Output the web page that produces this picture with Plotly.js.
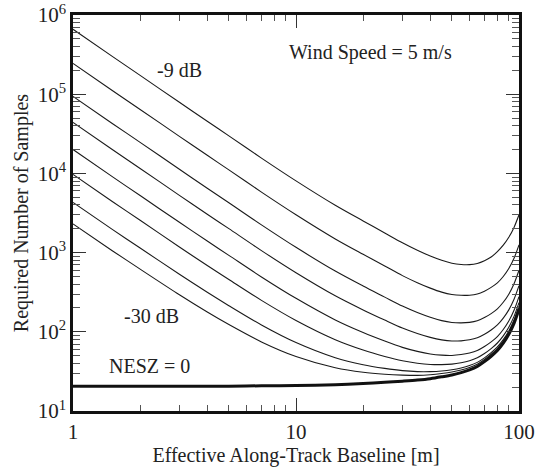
<!DOCTYPE html>
<html>
<head>
<meta charset="utf-8">
<script src="https://cdn.plot.ly/plotly-3.0.1.min.js"></script>
<style>html,body{margin:0;padding:0;background:#fff;}#chart{width:535px;height:472px;}</style>
</head>
<body>
<div id="chart"></div>
<script>
// Effective along-track baseline [m]
const baseline = [1, 1.5, 2, 3, 4, 5, 7, 10, 15, 20, 25, 30, 35, 40, 45, 50, 55, 60, 65, 70, 75, 80, 85, 90, 95, 100];

// Required number of samples, one array per NESZ level
const nesz_m9  = [660000, 300000, 173000, 79000, 45500, 29800, 15600, 8050, 3960, 2510, 1770, 1330, 1070, 905, 800, 735, 708, 705, 730, 790, 880, 1030, 1240, 1560, 2080, 3000];
const nesz_m12 = [245000, 111380, 64240, 29340, 16910, 11080, 5810, 3007, 1488, 951, 678, 512, 417, 356, 317, 296, 289, 290, 300, 326, 364, 415, 499, 629, 848, 1254];
const nesz_m15 = [94000, 42740, 24655, 11270, 6500, 4264, 2241, 1166, 584, 378, 274, 211, 175, 152.5, 138.3, 131.3, 129.7, 131.6, 137.8, 151.1, 169.7, 194.9, 235.9, 298.5, 404.4, 599.5];
const nesz_m18 = [44000, 20012, 11549, 5285, 3052, 2006, 1060, 557, 284.9, 188.9, 140.5, 111.4, 95, 85, 79.1, 76.5, 76.9, 79.2, 83.9, 93.1, 105.4, 122, 148.7, 189.1, 257.3, 382.6];
const nesz_m21 = [20000, 9101, 5257, 2412, 1398, 923, 492.7, 264.5, 141.1, 97.9, 76.4, 63.6, 56.6, 52.5, 50.7, 50.3, 51.6, 54, 58, 65.2, 74.6, 87.1, 106.8, 136.7, 186.8, 278.6];
const nesz_m24 = [9700, 4422, 2559, 1179, 688, 457.8, 249.5, 139, 79.5, 58.9, 48.9, 43.1, 40.1, 38.7, 38.5, 39.1, 40.7, 43.1, 47, 53.2, 61.4, 72.2, 88.9, 114.2, 156.5, 234];
const nesz_m27 = [4300, 1966, 1142, 532.8, 315.5, 213.8, 122, 73.2, 47.1, 38.4, 34.5, 32.3, 31.4, 31.4, 32, 33.2, 35, 37.5, 41.1, 46.9, 54.5, 64.3, 79.5, 102.3, 140.6, 210.5];
const nesz_m30 = [2300, 1057, 618.2, 293.4, 177.7, 123.5, 74.6, 48.8, 35.2, 30.8, 29.1, 28.4, 28.2, 28.7, 29.7, 31, 32.9, 35.4, 38.9, 44.6, 52, 61.3, 76, 98, 134.7, 201.9];
const nesz_0   = [20.5, 20.5, 20.5, 20.5, 20.5, 20.6, 20.8, 21, 21.5, 22.2, 23, 23.8, 24.6, 25.6, 27, 28.5, 30.5, 33, 36.5, 42, 49, 58, 72, 93, 128, 192];

const thinSeries = [nesz_m9, nesz_m12, nesz_m15, nesz_m18, nesz_m21, nesz_m24, nesz_m27, nesz_m30];
const thinNames = ['-9 dB', '-12 dB', '-15 dB', '-18 dB', '-21 dB', '-24 dB', '-27 dB', '-30 dB'];

// Tick labels
const xTickVals = [1, 10, 100];
const xTickText = ['1', '10', '100'];
const yTickVals = [10, 100, 1000, 10000, 100000, 1000000];
const yTickText = ['10<sup>1</sup>', '10<sup>2</sup>', '10<sup>3</sup>', '10<sup>4</sup>', '10<sup>5</sup>', '10<sup>6</sup>'];

function minorVals(decStart, decEnd) {
  const out = [];
  for (let d = decStart; d < decEnd; d++) for (let m = 2; m <= 9; m++) out.push(m * Math.pow(10, d));
  return out;
}

const FONT = 'Liberation Serif';
const TXT = '#222';

const traces = thinSeries.map((ys, i) => ({
  x: baseline, y: ys, type: 'scatter', mode: 'lines', name: thinNames[i],
  line: {color: '#1a1a1a', width: 1.1, shape: 'spline', smoothing: 0.8},
  hoverinfo: 'skip'
}));
traces.push({
  x: baseline, y: nesz_0, type: 'scatter', mode: 'lines', name: 'NESZ = 0',
  line: {color: '#111', width: 3, shape: 'spline', smoothing: 0.8},
  hoverinfo: 'skip'
});

const axisCommon = {
  type: 'log', showgrid: false, zeroline: false,
  showline: true, linecolor: '#111', linewidth: 2.8, mirror: 'ticks',
  ticks: 'inside', ticklen: 13, tickwidth: 1, tickcolor: '#333',
  tickfont: {family: FONT, size: 21, color: TXT},
  automargin: false
};

const layout = {
  width: 535, height: 472,
  margin: {l: 73, r: 16, t: 15, b: 61},
  paper_bgcolor: '#fff', plot_bgcolor: '#fff',
  showlegend: false,
  font: {family: FONT, size: 20, color: TXT},
  xaxis: Object.assign({}, axisCommon, {
    range: [0, 2], tickmode: 'array', tickvals: xTickVals, ticktext: xTickText,
    minor: {ticks: 'inside', ticklen: 6, tickwidth: 1, tickcolor: '#555', tickmode: 'array', tickvals: minorVals(0, 2), showgrid: false},
    title: {text: 'Effective Along-Track Baseline [m]', font: {family: FONT, size: 20, color: TXT}, standoff: 4}
  }),
  yaxis: Object.assign({}, axisCommon, {
    range: [1, 6], tickmode: 'array', tickvals: yTickVals, ticktext: yTickText,
    minor: {ticks: 'inside', ticklen: 7, tickwidth: 1, tickcolor: '#555', tickmode: 'array', tickvals: minorVals(1, 6), showgrid: false},
    title: {text: 'Required Number of Samples', font: {family: FONT, size: 20, color: TXT}, standoff: 4}
  }),
  annotations: [
    {text: 'Wind Speed = 5 m/s', x: Math.log10(21.5), y: Math.log10(340000), xref: 'x', yref: 'y', showarrow: false, font: {family: FONT, size: 20, color: TXT}},
    {text: '-9 dB', x: Math.log10(3.0), y: Math.log10(200000), xref: 'x', yref: 'y', showarrow: false, font: {family: FONT, size: 20, color: TXT}},
    {text: '-30 dB', x: Math.log10(2.25), y: Math.log10(160), xref: 'x', yref: 'y', showarrow: false, font: {family: FONT, size: 20, color: TXT}},
    {text: 'NESZ = 0', x: Math.log10(2.2), y: Math.log10(37.5), xref: 'x', yref: 'y', showarrow: false, font: {family: FONT, size: 20, color: TXT}}
  ]
};

Plotly.newPlot('chart', traces, layout, {staticPlot: true, displayModeBar: false});
</script>
</body>
</html>
